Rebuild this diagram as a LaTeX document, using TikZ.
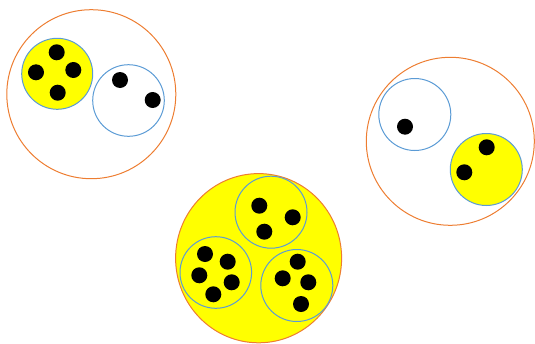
\documentclass[tikz,border=0pt]{standalone}
\definecolor{orng}{HTML}{ED7D31}
\definecolor{blu}{HTML}{5B9BD5}
\definecolor{yel}{HTML}{FFFF00}
\begin{document}
\begin{tikzpicture}[x=1pt,y=-1pt,
  outer/.style={draw=orng,line width=1pt},
  inner/.style={draw=blu,line width=1pt},
  dot/.style={fill=black}]
\useasboundingbox (0,0) rectangle (535,343);
% top-left group
\draw[outer] (91.3,94.2) circle[radius=84.5];
\draw[inner,fill=yel] (57.2,73.8) circle[radius=35.5];
\fill[dot] (56.7,52.3) circle[radius=8];
\fill[dot] (36,72.3) circle[radius=8];
\fill[dot] (73.3,70) circle[radius=8];
\fill[dot] (57.7,92.7) circle[radius=8];
\draw[inner] (128.5,100.5) circle[radius=35.8];
\fill[dot] (120,80) circle[radius=8];
\fill[dot] (152.7,100) circle[radius=8];
% right group
\draw[outer] (450.3,141.3) circle[radius=84];
\draw[inner] (414.8,114.5) circle[radius=36];
\fill[dot] (405,126.7) circle[radius=8];
\draw[inner,fill=yel] (486.3,169.5) circle[radius=36];
\fill[dot] (486.7,147.3) circle[radius=8];
\fill[dot] (464.3,172.3) circle[radius=8];
% bottom group
\draw[outer,fill=yel] (258.6,258.2) ellipse[x radius=83,y radius=84.6];
\draw[inner] (271,212.2) circle[radius=36];
\fill[dot] (259.3,205.7) circle[radius=8];
\fill[dot] (292.7,217.3) circle[radius=8];
\fill[dot] (264.3,231.7) circle[radius=8];
\draw[inner] (215.8,272.5) circle[radius=35.8];
\fill[dot] (205,254) circle[radius=8];
\fill[dot] (227.7,261.7) circle[radius=8];
\fill[dot] (199.3,275.3) circle[radius=8];
\fill[dot] (231.7,282.3) circle[radius=8];
\fill[dot] (213.3,294.3) circle[radius=8];
\draw[inner] (296.8,285.5) circle[radius=36];
\fill[dot] (297.7,261.7) circle[radius=8];
\fill[dot] (282.7,278.3) circle[radius=8];
\fill[dot] (308.3,282.3) circle[radius=8];
\fill[dot] (301,304) circle[radius=8];
\end{tikzpicture}
\end{document}
